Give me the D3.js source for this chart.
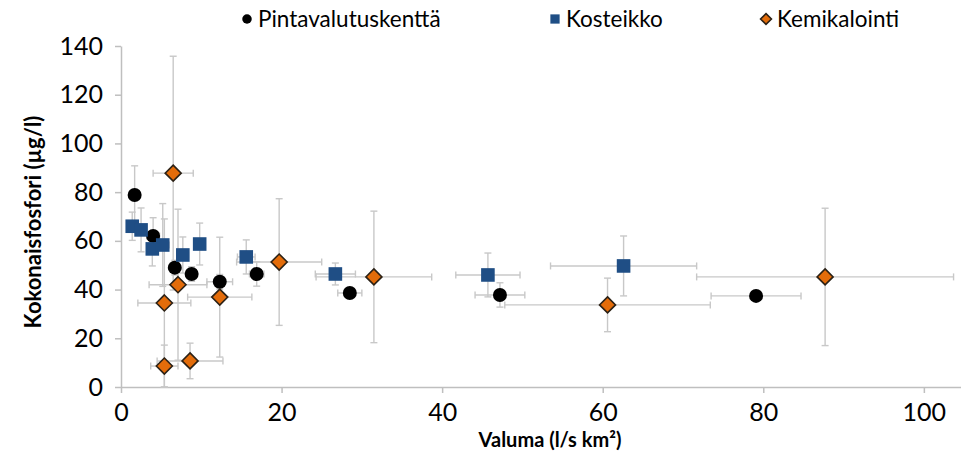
<!DOCTYPE html>
<html><head><meta charset="utf-8">
<script src="https://cdn.jsdelivr.net/npm/d3@7"></script>
<style>body{margin:0;background:#fff}svg{display:block;font-family:Lato,"Open Sans",sans-serif}</style>
</head><body><svg id="c" width="961" height="458"></svg>
<script>
const seriesNames = ["Pintavalutuskenttä", "Kosteikko", "Kemikalointi"];
// Pintavalutuskenttä
const pvX = [1.7, 4.0, 6.7, 8.8, 12.3, 16.9, 28.5, 47.2, 79.1];
const pvY = [78.8, 62.0, 49.0, 46.4, 43.2, 46.4, 38.6, 37.8, 37.4];
const pvXerr = [0.3, 0.8, 0.5, 0.5, 1.6, 0.9, 1.5, 3.1, 5.6];
const pvYerr = [12, 7.5, 3, 3, 3, 5, 1.5, 5, 1.5];
// Kosteikko
const koX = [1.4, 2.5, 3.9, 5.2, 7.7, 9.8, 15.6, 26.7, 45.7, 62.6];
const koY = [66.0, 64.5, 56.7, 58.3, 54.2, 58.7, 53.4, 46.4, 46.0, 49.7];
const koXerr = [0.5, 0.6, 0.6, 0.8, 0.7, 0.7, 1.1, 2.5, 4.0, 9.1];
const koYerr = [5.8, 9, 7, 17, 7.4, 8.6, 7, 4.5, 9, 12.3];
// Kemikalointi
const keX = [6.5, 7.1, 5.4, 12.3, 5.4, 8.6, 19.7, 31.5, 60.6, 87.7];
const keY = [87.8, 42.0, 34.5, 36.9, 8.6, 10.7, 51.3, 45.2, 33.7, 45.2];
const keXerr = [2.5, 3.6, 3.3, 4.0, 1.7, 4.1, 5.3, 7.2, 12.8, 16.0];
const keYerr = [48, 31, 34.5, 24.6, 8.6, 7.3, 26, 27, 11, 28.2];

const xTicks = [0, 20, 40, 60, 80, 100];
const yTicks = [0, 20, 40, 60, 80, 100, 120, 140];
const xLabel = "Valuma (l/s km²)";
const yLabel = "Kokonaisfosfori (µg/l)";

const svg = d3.select("#c");
const x = d3.scaleLinear().domain([0, 105]).range([121, 964]);
const y = d3.scaleLinear().domain([0, 140]).range([387, 46]);
const axisCol = "#bfbfbf";

// axes
const xAxis = svg.append("g").attr("transform", `translate(0,${y(0)})`)
  .call(d3.axisBottom(x).tickValues(xTicks).tickSize(6).tickSizeOuter(0).tickPadding(13));
const yAxis = svg.append("g").attr("transform", `translate(${x(0)},0)`)
  .call(d3.axisLeft(y).tickValues(yTicks).tickSize(6).tickSizeOuter(0).tickPadding(12));
[xAxis, yAxis].forEach(a => {
  a.select(".domain").attr("stroke", axisCol).attr("stroke-width", 1.5);
  a.selectAll(".tick line").attr("stroke", axisCol).attr("stroke-width", 1.5);
  a.selectAll(".tick text").attr("fill", "#000").style("font-size", "25px")
    .style("font-family", "Lato, 'Open Sans', sans-serif");
});
xAxis.selectAll(".tick text").attr("dy", "0.6em");

const series = [
  {name: seriesNames[0], xs: pvX, ys: pvY, xe: pvXerr, ye: pvYerr, shape: "circle"},
  {name: seriesNames[1], xs: koX, ys: koY, xe: koXerr, ye: koYerr, shape: "square"},
  {name: seriesNames[2], xs: keX, ys: keY, xe: keXerr, ye: keYerr, shape: "diamond"}
];

const eb = svg.append("g").attr("stroke", "#c8c8c8").attr("stroke-width", 1.4).attr("fill", "none");
const cap = 3.5;
series.forEach(s => {
  s.xs.forEach((xv, i) => {
    const yv = s.ys[i], xe = s.xe[i], ye = s.ye[i];
    const px = x(xv), py = y(yv);
    const y0 = y(Math.max(0, yv - ye)), y1 = y(yv + ye);
    const x0 = x(Math.max(0, xv - xe)), x1 = x(xv + xe);
    eb.append("line").attr("x1", px).attr("x2", px).attr("y1", y0).attr("y2", y1);
    eb.append("line").attr("x1", px - cap).attr("x2", px + cap).attr("y1", y0).attr("y2", y0);
    eb.append("line").attr("x1", px - cap).attr("x2", px + cap).attr("y1", y1).attr("y2", y1);
    eb.append("line").attr("x1", x0).attr("x2", x1).attr("y1", py).attr("y2", py);
    eb.append("line").attr("x1", x0).attr("x2", x0).attr("y1", py - cap).attr("y2", py + cap);
    eb.append("line").attr("x1", x1).attr("x2", x1).attr("y1", py - cap).attr("y2", py + cap);
  });
});

function marker(g, shape, cx, cy, scale) {
  scale = scale || 1;
  if (shape === "circle") {
    g.append("circle").attr("cx", cx).attr("cy", cy).attr("r", 7 * scale).attr("fill", "#000");
  } else if (shape === "square") {
    const h = 6.8 * scale;
    g.append("rect").attr("x", cx - h).attr("y", cy - h).attr("width", 2 * h).attr("height", 2 * h)
      .attr("fill", "#1f4e85");
  } else {
    const h = 8 * scale;
    g.append("path").attr("d", `M${cx},${cy - h}L${cx + h},${cy}L${cx},${cy + h}L${cx - h},${cy}Z`)
      .attr("fill", "#e36c0a").attr("stroke", "#2b2116").attr("stroke-width", 1.6);
  }
}

const mk = svg.append("g");
series.forEach(s => {
  s.xs.forEach((xv, i) => marker(mk, s.shape, x(xv), y(s.ys[i])));
});

// legend
const legPos = [247, 555, 766];
const lg = svg.append("g");
series.forEach((s, i) => {
  marker(lg, s.shape, legPos[i], 19, 0.68);
  lg.append("text").attr("x", legPos[i] + 11).attr("y", 19).attr("dy", "0.35em")
    .style("font-size", "22.5px").attr("fill", "#000").text(s.name);
});

// axis titles
svg.append("text").attr("x", 550).attr("y", 440).attr("dy", "0.35em").attr("text-anchor", "middle")
  .style("font-size", "20px").style("font-weight", "bold").text(xLabel);
svg.append("text").attr("transform", "translate(33,222) rotate(-90)").attr("dy", "0.35em")
  .attr("text-anchor", "middle").style("font-size", "22px").style("font-weight", "bold").text(yLabel);
</script></body></html>
